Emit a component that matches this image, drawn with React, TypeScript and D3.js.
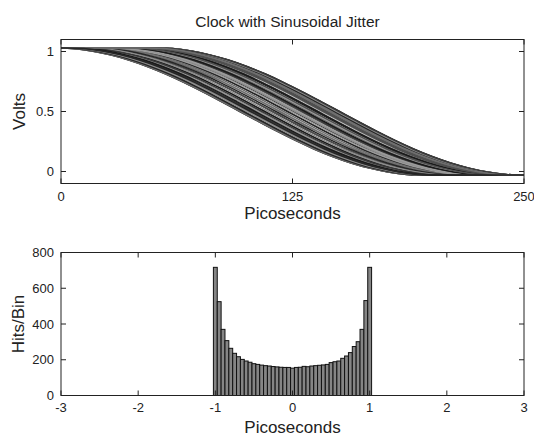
import React from "react";
import * as d3 from "d3";

// ---------- Data ----------
// Falling clock edge shape, sampled relative to the 0.5 V crossing (ps -> volts)
const edgeOffsetPs = [-160, -100, -90, -80, -70, -60, -50, -40, -30, -20, -10, 0, 10, 20, 30, 40, 50, 60, 70, 80, 90, 100, 160];
const edgeVolts = [1.03, 1.03, 1.024, 1.004, 0.972, 0.929, 0.875, 0.812, 0.741, 0.664, 0.583, 0.5, 0.417, 0.336, 0.259, 0.188, 0.125, 0.071, 0.028, -0.004, -0.024, -0.03, -0.03];
const edgeCenterPs = 123.5;
// Per-trace sinusoidal jitter of the crossing (ps)
const jitterPs = [2, 6, 10, 14, 17.5, 20.5, 23, 25, 26.3, 27, 26.8, 25.8, 24, 21.7, 18.8, 15.4, 11.6, 7.6, 3.4, -1, -5.2, -9.4, -13.3, -16.8, -19.9, -22.5, -24.5, -26, -26.8, -27, -26.4, -25, -23, -20.3, -17.1, -13.5, -9.5, -5.4, -1.2, 3, 7.2, 11.2, 15, 18.4, 21.3, 23.7, 25.5, 26.6, 4.5, 8.5, 12.4, -3.2, -7.4, -11.5, -15.1, 0.8, -18.6, 19.7, 22.4, -21.2];

// Histogram
const binCenters = [-1.0, -0.95, -0.9, -0.85, -0.8, -0.75, -0.7, -0.65, -0.6, -0.55, -0.5, -0.45, -0.4, -0.35, -0.3, -0.25, -0.2, -0.15, -0.1, -0.05, 0, 0.05, 0.1, 0.15, 0.2, 0.25, 0.3, 0.35, 0.4, 0.45, 0.5, 0.55, 0.6, 0.65, 0.7, 0.75, 0.8, 0.85, 0.9, 0.95, 1.0];
const hitsPerBin = [717, 525, 370, 307, 264, 236, 217, 202, 193, 186, 178, 174, 170, 167, 165, 162, 160, 158, 157, 157, 153, 157, 158, 163, 161, 165, 167, 169, 171, 174, 184, 189, 193, 208, 221, 240, 274, 301, 370, 531, 717];
const binWidth = 0.05;

// Ticks
const topXTicks = [0, 125, 250];
const topYTicks = [0, 0.5, 1];
const botXTicks = [-3, -2, -1, 0, 1, 2, 3];
const botYTicks = [0, 200, 400, 600, 800];

const traceColors = ["#1a1a1a", "#505050", "#6e6e6e", "#262626", "#8c8c8c", "#3a3a3a", "#9a9a9a"];

const FONT = "'Liberation Sans', Arial, Helvetica, sans-serif";

export default function App() {
  const W = 534, H = 436;
  const L = 61, R = 524;
  const t1 = 39.5, b1 = 183.5;
  const t2 = 252.5, b2 = 395.5;
  const tick = 5;
  const axisColor = "#222";

  const x1 = d3.scaleLinear().domain([0, 250]).range([L, R]);
  const y1 = d3.scaleLinear().domain([-0.1, 1.1]).range([b1, t1]);
  const x2 = d3.scaleLinear().domain([-3, 3]).range([L, R]);
  const y2 = d3.scaleLinear().domain([0, 800]).range([b2, t2]);

  const line = d3
    .line<[number, number]>()
    .x((d) => x1(d[0]))
    .y((d) => y1(d[1]))
    .curve(d3.curveMonotoneX);

  const traces = jitterPs.map((j) =>
    edgeOffsetPs.map((o, i) => [edgeCenterPs + j + o, edgeVolts[i]] as [number, number])
  );

  const tickLabel = { fontFamily: FONT, fontSize: 13, fill: "#222" } as const;

  return (
    <svg width={W} height={H} style={{ position: "absolute", left: 0, top: 0, background: "#fff" }}>
      <defs>
        <clipPath id="clipTop">
          <rect x={L} y={t1} width={R - L} height={b1 - t1} />
        </clipPath>
      </defs>
      <rect x={0} y={0} width={W} height={H} fill="#fff" />

      {/* ---------- Top plot ---------- */}
      <text x={(L + R) / 2 - 5} y={27} textAnchor="middle" fontFamily={FONT} fontSize={15.5} fill="#222">
        Clock with Sinusoidal Jitter
      </text>
      <g clipPath="url(#clipTop)">
        {traces.map((tr, i) => (
          <path key={i} d={line(tr) || ""} fill="none" stroke={traceColors[i % traceColors.length]} strokeWidth={1.5} />
        ))}
      </g>
      <rect x={L} y={t1} width={R - L} height={b1 - t1} fill="none" stroke={axisColor} strokeWidth={1} />
      {topXTicks.map((v) => (
        <g key={"tx" + v}>
          <line x1={x1(v)} x2={x1(v)} y1={b1} y2={b1 - tick} stroke={axisColor} />
          <line x1={x1(v)} x2={x1(v)} y1={t1} y2={t1 + tick} stroke={axisColor} />
          <text x={x1(v)} y={201} textAnchor="middle" {...tickLabel}>
            {v}
          </text>
        </g>
      ))}
      {topYTicks.map((v) => (
        <g key={"ty" + v}>
          <line x1={L} x2={L + tick} y1={y1(v)} y2={y1(v)} stroke={axisColor} />
          <line x1={R} x2={R - tick} y1={y1(v)} y2={y1(v)} stroke={axisColor} />
          <text x={54} y={y1(v)} dy="0.36em" textAnchor="end" {...tickLabel}>
            {v}
          </text>
        </g>
      ))}
      <text x={(L + R) / 2} y={219} textAnchor="middle" fontFamily={FONT} fontSize={17} fill="#222">
        Picoseconds
      </text>
      <text
        transform={`translate(25, ${(t1 + b1) / 2}) rotate(-90)`}
        textAnchor="middle"
        fontFamily={FONT}
        fontSize={17}
        fill="#222"
      >
        Volts
      </text>

      {/* ---------- Bottom plot ---------- */}
      {binCenters.map((c, i) => (
        <rect
          key={"b" + i}
          x={x2(c - binWidth / 2)}
          y={y2(hitsPerBin[i])}
          width={x2(c + binWidth / 2) - x2(c - binWidth / 2)}
          height={y2(0) - y2(hitsPerBin[i])}
          fill="#858585"
          stroke="#111"
          strokeWidth={1}
        />
      ))}
      <rect x={L} y={t2} width={R - L} height={b2 - t2} fill="none" stroke={axisColor} strokeWidth={1} />
      {botXTicks.map((v) => (
        <g key={"bx" + v}>
          <line x1={x2(v)} x2={x2(v)} y1={b2} y2={b2 - tick} stroke={axisColor} />
          <line x1={x2(v)} x2={x2(v)} y1={t2} y2={t2 + tick} stroke={axisColor} />
          <text x={x2(v)} y={412} textAnchor="middle" {...tickLabel}>
            {v}
          </text>
        </g>
      ))}
      {botYTicks.map((v) => (
        <g key={"by" + v}>
          <line x1={L} x2={L + tick} y1={y2(v)} y2={y2(v)} stroke={axisColor} />
          <line x1={R} x2={R - tick} y1={y2(v)} y2={y2(v)} stroke={axisColor} />
          <text x={54} y={y2(v)} dy="0.36em" textAnchor="end" {...tickLabel}>
            {v}
          </text>
        </g>
      ))}
      <text x={(L + R) / 2} y={433} textAnchor="middle" fontFamily={FONT} fontSize={17} fill="#222">
        Picoseconds
      </text>
      <text
        transform={`translate(24, ${(t2 + b2) / 2}) rotate(-90)`}
        textAnchor="middle"
        fontFamily={FONT}
        fontSize={17}
        fill="#222"
      >
        Hits/Bin
      </text>
    </svg>
  );
}
